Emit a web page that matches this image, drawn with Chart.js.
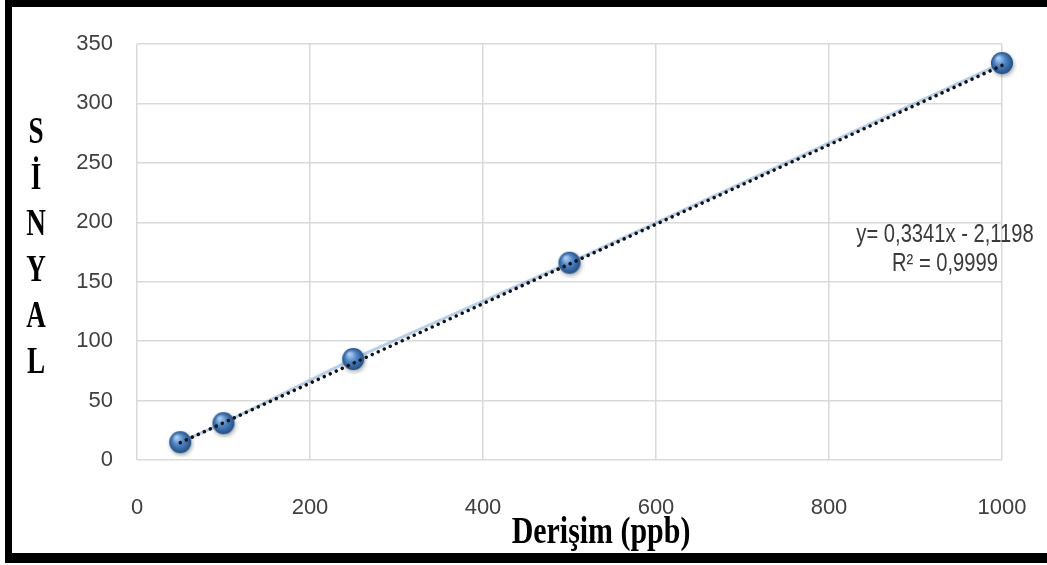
<!DOCTYPE html>
<html>
<head>
<meta charset="utf-8">
<script src="https://cdn.jsdelivr.net/npm/chart.js@4"></script>
<style>
  html, body { margin: 0; padding: 0; background: #fff; overflow: hidden; }
  #wrap { position: absolute; left: 0; top: 0; width: 1047px; height: 565px; }
  #frame {
    position: absolute; left: 5px; top: 0; width: 1100px; height: 563px;
    box-sizing: border-box;
    border-left: 7px solid #000; border-top: 7px solid #000; border-bottom: 10px solid #000;
    pointer-events: none;
  }
</style>
</head>
<body>
<div id="wrap">
  <canvas id="myChart" width="1047" height="565"></canvas>
  <div id="frame"></div>
</div>
<script>
// kalibrasyon verileri
var derisim = [50, 100, 250, 500, 1000];
var sinyal = [15, 31, 85, 166, 334];

// dogrusal regresyon (trend cizgisi)
var egim = 0.3341;
var kesim = -2.1198;
var r2 = "0,9999";

var yTicks = [0, 50, 100, 150, 200, 250, 300, 350];
var xTicks = [0, 200, 400, 600, 800, 1000];

var tickFont = '"Liberation Sans", Arial, sans-serif';
var serifFont = '"Liberation Serif", "DejaVu Serif", serif';

// mavi kure seklinde nokta
function kureYap(r) {
    var c = document.createElement("canvas");
    var s = r * 2 + 8;
    c.width = s;
    c.height = s;
    var g = c.getContext("2d");
    g.shadowColor = "rgba(0,0,0,0.35)";
    g.shadowBlur = 4;
    g.shadowOffsetX = 1;
    g.shadowOffsetY = 2;
    var grad = g.createRadialGradient(s / 2 - r * 0.35, s / 2 - r * 0.45, r * 0.1, s / 2, s / 2, r);
    grad.addColorStop(0, "#a9cbf0");
    grad.addColorStop(0.45, "#4f86c6");
    grad.addColorStop(1, "#1f4f86");
    g.fillStyle = grad;
    g.beginPath();
    g.arc(s / 2, s / 2, r, 0, Math.PI * 2);
    g.fill();
    return c;
}

var noktalar = derisim.map(function (x, i) {
    return { x: x, y: sinyal[i] };
});

var trendX = [derisim[0], derisim[derisim.length - 1]];
var trend = trendX.map(function (x) {
    return { x: x, y: egim * x + kesim };
});

var denklem = [
    "y= " + egim.toFixed(4).replace(".", ",") + "x - " + Math.abs(kesim).toFixed(4).replace(".", ","),
    "R\u00b2 = " + r2
];

// eksen basliklari ve denklem yazisi
var yazilar = {
    id: "yazilar",
    afterDraw: function (chart) {
        var ctx = chart.ctx;
        ctx.save();
        ctx.fillStyle = "#000";
        ctx.textAlign = "center";
        ctx.textBaseline = "middle";

        // dikey harflerle SİNYAL
        ctx.font = "bold 34px " + serifFont;
        var harfler = "SİNYAL".split("");
        harfler.forEach(function (h, i) {
            ctx.save();
            ctx.translate(36, 133 + i * 46);
            ctx.scale(0.8, 1.1);
            ctx.fillText(h, 0, 0);
            ctx.restore();
        });

        // x ekseni basligi
        ctx.save();
        ctx.font = "bold 34px " + serifFont;
        ctx.textBaseline = "alphabetic";
        ctx.translate(601, 543);
        ctx.scale(0.88, 1.1);
        ctx.fillText("Derişim (ppb)", 0, 0);
        ctx.restore();

        // regresyon denklemi
        ctx.fillStyle = "#3a3a3a";
        ctx.font = "24px " + tickFont;
        [0, 1].forEach(function (i) {
            ctx.save();
            ctx.translate(945, 235 + i * 29);
            ctx.scale(0.84, 1.05);
            ctx.fillText(denklem[i], 0, 0);
            ctx.restore();
        });
        ctx.restore();
    }
};

function etiket(v) {
    return String(v);
}

var ctx = document.getElementById("myChart").getContext("2d");
var myChart = new Chart(ctx, {
    type: "scatter",
    data: {
        datasets: [
            {
                label: "Trend",
                type: "line",
                data: trend,
                borderColor: "#111",
                borderWidth: 3.5,
                borderDash: [0.1, 6.5],
                borderCapStyle: "round",
                pointRadius: 0,
                fill: false,
                clip: false,
                order: 0
            },
            {
                label: "Sinyal",
                data: noktalar,
                showLine: true,
                borderColor: "rgba(110,160,215,0.5)",
                borderWidth: 3,
                pointStyle: kureYap(11),
                pointRadius: 11,
                clip: false,
                order: 1
            }
        ]
    },
    options: {
        responsive: false,
        animation: false,
        layout: {
            padding: { left: 0, top: 44, right: 45, bottom: 0 }
        },
        scales: {
            x: {
                type: "linear",
                min: 0,
                max: 1000,
                afterBuildTicks: function (s) {
                    s.ticks = xTicks.map(function (v) { return { value: v }; });
                },
                afterFit: function (s) {
                    s.height = 105;
                    s.paddingLeft = 0;
                    s.paddingRight = 0;
                },
                grid: { color: "#d9d9d9", lineWidth: 1.5, drawTicks: false },
                border: { display: false },
                ticks: {
                    color: "#404040",
                    padding: 35,
                    font: { family: tickFont, size: 22 },
                    callback: etiket
                }
            },
            y: {
                min: 0,
                max: 350,
                afterBuildTicks: function (s) {
                    s.ticks = yTicks.map(function (v) { return { value: v }; });
                },
                afterFit: function (s) { s.width = 137; },
                grid: { color: "#d9d9d9", lineWidth: 1.5, drawTicks: false },
                border: { display: false },
                ticks: {
                    color: "#404040",
                    padding: 24,
                    font: { family: tickFont, size: 22 },
                    callback: etiket
                }
            }
        },
        plugins: {
            legend: { display: false },
            tooltip: { enabled: false }
        }
    },
    plugins: [yazilar]
});
</script>
</body>
</html>
